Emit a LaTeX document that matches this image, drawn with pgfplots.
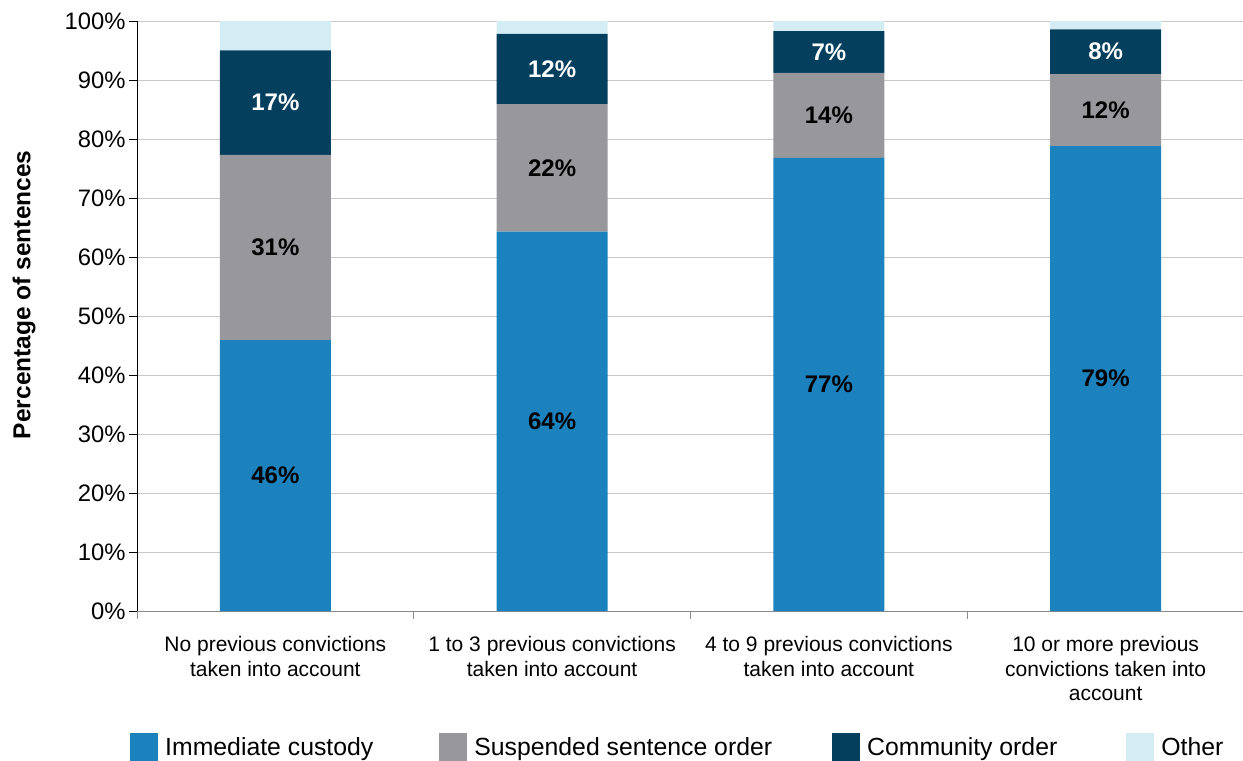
\documentclass[border=0pt]{standalone}
\usepackage{fontspec}
\setmainfont{Liberation Sans}
\usepackage{pgfplots}
\usepackage{pgfplotstable}
\pgfplotsset{compat=1.18}
\definecolor{cBlue}{HTML}{1B82BD}
\definecolor{cGray}{HTML}{98989C}
\definecolor{cDark}{HTML}{053F5E}
\definecolor{cLight}{HTML}{D4ECF3}
\definecolor{cGrid}{HTML}{C8C8C8}
\definecolor{cAxis}{HTML}{8A8A8A}

\pgfplotstableread{
x y lab
0 45.9 46
1 64.3 64
2 76.8 77
3 78.8 79
}\tabImm
\pgfplotstableread{
x y lab
0 31.4 31
1 21.6 22
2 14.4 14
3 12.2 12
}\tabSus
\pgfplotstableread{
x y lab
0 17.7 17
1 11.9 12
2 7.1 7
3 7.6 8
}\tabCom
\pgfplotstableread{
x y
0 5.0
1 2.2
2 1.7
3 1.4
}\tabOth

\begin{document}
\begin{tikzpicture}
\begin{axis}[
  name=ax,
  scale only axis,
  width=1107pt, height=590pt,
  ybar stacked,
  bar width=111pt,
  xmin=-0.5, xmax=3.5,
  ymin=0, ymax=100,
  axis x line*=bottom,
  axis y line*=left,
  x axis line style={cAxis, line width=1pt},
  y axis line style={black, line width=0.8pt},
  ytick={0,10,...,100},
  yticklabel={\pgfmathprintnumber{\tick}\%},
  /pgf/number format/assume math mode=true,
  yticklabel style={font=\fontsize{23.8}{28}\selectfont, xshift=0pt},
  ytick style={black, line width=0.8pt},
  tick align=outside,
  major tick length=8pt,
  ymajorgrids,
  grid style={cGrid, line width=0.8pt},
  xtick={-0.5,0.5,1.5,2.5,3.5},
  xticklabels={},
  xtick style={cAxis, line width=0.8pt},
  extra x ticks={0,1,2,3},
  extra x tick labels={{No previous convictions\\taken into account},{1 to 3 previous convictions\\taken into account},{4 to 9 previous convictions\\taken into account},{10 or more previous\\convictions taken into\\account}},
  extra x tick style={major tick length=0pt, xticklabel style={align=center, font=\fontsize{21}{24.5}\selectfont, anchor=north, yshift=-22pt}},
  ylabel={\textbf{Percentage of sentences}},
  ylabel style={font=\fontsize{24.5}{28}\selectfont, at={(axis description cs:-0.102,0.536)}, anchor=center},
  point meta=explicit symbolic,
  nodes near coords={\pgfplotspointmeta\%},
  every node near coord/.append style={font=\bfseries\fontsize{24}{28}\selectfont, anchor=center},
  legend columns=4,
  legend style={draw=none, at={(axis description cs:-0.0063,-0.2305)}, anchor=west, inner sep=0pt,
    font=\fontsize{24.8}{28}\selectfont,
    /tikz/column 2/.style={column sep=59pt},
    /tikz/column 4/.style={column sep=53pt},
    /tikz/column 6/.style={column sep=62pt},
    nodes={inner xsep=7pt, inner ysep=0pt}},
  legend image code/.code={\fill[#1] (0pt,-14pt) rectangle (28pt,14pt);},
]
\addplot[fill=cBlue, draw=none, every node near coord/.append style={text=black}] table[x=x,y=y,meta=lab]{\tabImm};
\addplot[fill=cGray, draw=none, every node near coord/.append style={text=black}] table[x=x,y=y,meta=lab]{\tabSus};
\addplot[fill=cDark, draw=none, every node near coord/.append style={text=white}] table[x=x,y=y,meta=lab]{\tabCom};
\addplot[fill=cLight, draw=none, nodes near coords={}] table[x=x,y=y,meta=x]{\tabOth};
\legend{Immediate custody, Suspended sentence order, Community order, Other}
\end{axis}
\pgfresetboundingbox
\path[use as bounding box] ([shift={(-137pt,-149pt)}]ax.south west) rectangle ([shift={(-1pt,21pt)}]ax.north east);
\end{tikzpicture}
\end{document}
